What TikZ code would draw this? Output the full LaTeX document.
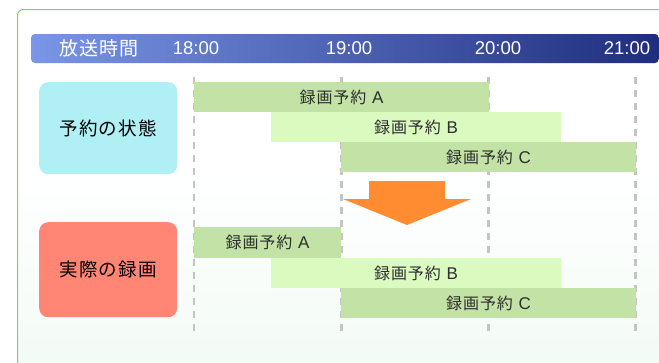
\documentclass[tikz,border=0pt]{standalone}
\usepackage{fontspec}
\setmainfont{Noto Sans CJK JP}[LetterSpace=6]
\newfontfamily\latinf{Liberation Sans}
\definecolor{frame}{HTML}{8CC878}
\definecolor{hdrL}{HTML}{7A96E6}
\definecolor{hdrR}{HTML}{1F2D7E}
\definecolor{barD}{HTML}{C2E2A6}
\definecolor{barL}{HTML}{DAFAC0}
\definecolor{planC}{HTML}{B0F0F5}
\definecolor{realC}{HTML}{FF8574}
\definecolor{arrowC}{HTML}{FF8C30}
\definecolor{dashC}{HTML}{C4C4C4}
\definecolor{bgB}{HTML}{F3FBF6}
\tikzset{
  bar/.style={anchor=north west, inner sep=0pt, outer sep=0pt, minimum height=30pt, font=\fontsize{16}{16}\selectfont, text=black!82},
  labelbox/.style={anchor=north west, inner sep=0pt, rounded corners=9pt, minimum width=138pt, font=\fontsize{18.5}{18.5}\selectfont, text=black},
  timel/.style={text=white, font=\latinf\fontsize{18.5}{18.5}\selectfont, inner sep=0pt},
  guide/.style={dashC, line width=2.5pt, dash pattern=on 7pt off 6pt},
}
\newcommand{\bl}[1]{録画予約\hspace{0.35em}{\latinf\fontsize{17}{17}\selectfont #1}}
\begin{document}
\begin{tikzpicture}[x=1pt,y=-1pt]
\useasboundingbox (0,0) rectangle (659,362);
% background frame
\fill[white, rounded corners=6pt] (17.5,9.5) rectangle (690,400);
\shade[top color=white, bottom color=bgB] (18,170) rectangle (659,362);
\draw[frame, line width=1pt, rounded corners=6pt] (17.5,400) -- (17.5,9.5) -- (690,9.5);
% header bar
\shade[left color=hdrL, right color=hdrR, rounded corners=4pt] (31,34) rectangle (659,63);
\node[text=white, inner sep=0pt, font=\fontsize{19}{19}\selectfont] (hdr) at (99,48.5) {放送時間};
\node[timel] (t18) at (196,48.5) {18:00};
\node[timel] (t19) at (349,48.5) {19:00};
\node[timel] (t20) at (498,48.5) {20:00};
\node[timel] (t21) at (627,48.5) {21:00};
% guide lines
\coordinate (g18a) at (194,77); \coordinate (g18b) at (194,336);
\coordinate (g19a) at (341.5,77); \coordinate (g19b) at (341.5,336);
\coordinate (g20a) at (488.5,77); \coordinate (g20b) at (488.5,336);
\coordinate (g21a) at (635.5,77); \coordinate (g21b) at (635.5,336);
\draw[guide] (g18a) -- (g18b);
\draw[guide] (g19a) -- (g19b);
\draw[guide] (g20a) -- (g20b);
\draw[guide] (g21a) -- (g21b);
% label boxes
\node[labelbox, fill=planC, minimum height=92pt] (plan) at (39,82) {予約の状態};
\node[labelbox, fill=realC, minimum height=95pt] (real) at (39,222) {実際の録画};
% planned bars
\node[bar, fill=barD, minimum width=295pt] (pa) at (194,82) {\bl{A}};
\node[bar, fill=barL, minimum width=290pt] (pb) at (271,112) {\bl{B}};
\node[bar, fill=barD, minimum width=295pt] (pc) at (341,142) {\bl{C}};
% arrow
\fill[arrowC] (369,181) -- (445,181) -- (445,199) -- (471,199) -- (407,225) -- (343,199) -- (369,199) -- cycle;
% actual bars
\node[bar, fill=barD, minimum width=147pt, minimum height=31pt] (ra) at (194,227) {\bl{A}};
\node[bar, fill=barL, minimum width=290pt] (rb) at (271,258) {\bl{B}};
\node[bar, fill=barD, minimum width=295pt] (rc) at (341,288) {\bl{C}};
\end{tikzpicture}
\end{document}
